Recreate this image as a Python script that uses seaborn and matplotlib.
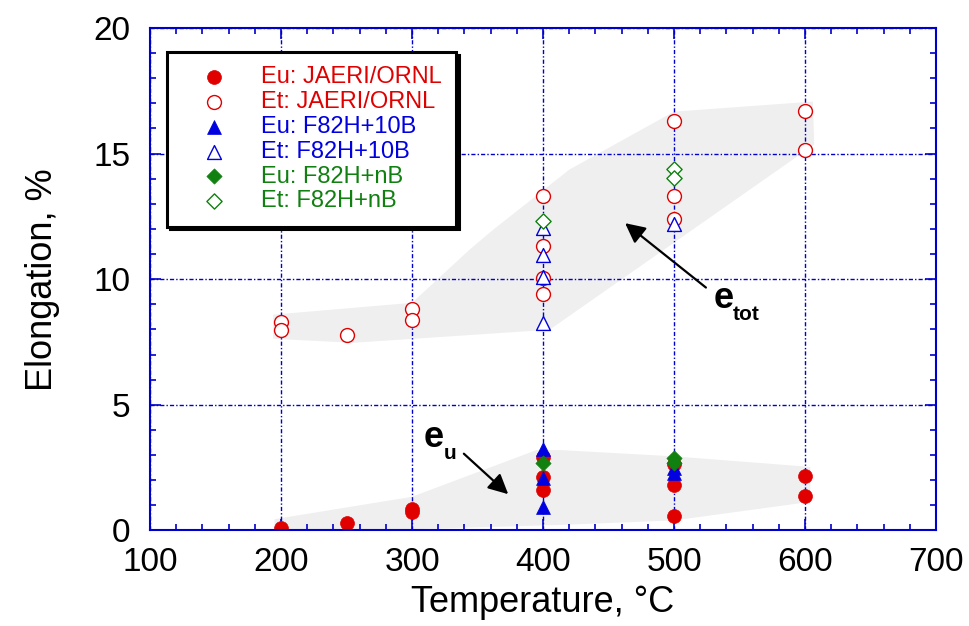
import matplotlib
matplotlib.use('Agg')
import matplotlib.pyplot as plt
import seaborn as sns
import pandas as pd
from matplotlib.ticker import MultipleLocator

sns.set_style('ticks')
plt.rcParams['font.family'] = ['Liberation Sans', 'DejaVu Sans']
plt.rcParams['text.color'] = 'black'
plt.rcParams['axes.labelcolor'] = 'black'

# Data
eu_jaeri_T = [200, 250, 300, 300, 400, 400, 400, 500, 500, 500, 600, 600]
eu_jaeri_y = [0.09, 0.29, 0.72, 0.86, 2.94, 2.14, 1.61, 2.65, 1.81, 0.58, 2.18, 1.37]
et_jaeri_T = [200, 200, 250, 300, 300, 400, 400, 400, 400, 500, 500, 500, 600, 600]
et_jaeri_y = [8.28, 7.96, 7.80, 8.81, 8.39, 13.30, 11.31, 10.05, 9.41, 16.29, 13.30, 12.40, 16.69, 15.16]
eu_10b_T = [400, 400, 400, 500, 500]
eu_10b_y = [3.25, 2.09, 0.95, 2.50, 2.28]
et_10b_T = [400, 400, 400, 400, 500]
et_10b_y = [12.04, 10.97, 10.09, 8.25, 12.20]
eu_nb_T = [400, 500, 500]
eu_nb_y = [2.68, 2.88, 2.70]
et_nb_T = [400, 500, 500]
et_nb_y = [12.31, 14.40, 14.03]

# Shaded scatter bands (outline vertices)
band_tot_T = [194, 300, 344, 362, 420, 500, 606, 607, 405, 255, 194]
band_tot_y = [8.59, 9.06, 11.18, 11.97, 14.36, 16.67, 17.07, 15.36, 7.99, 7.47, 7.63]
band_u_T = [195, 300, 395, 413, 500, 604, 604, 500, 413, 300, 195]
band_u_y = [0.45, 1.34, 3.20, 3.20, 2.95, 2.53, 1.14, 0.40, 0.22, 0.05, 0.0]

RED = '#e00000'
BLUE = '#0000e0'
GREEN = '#108010'
AXBLUE = '#0000cc'

series = [
    ('Eu: JAERI/ORNL', eu_jaeri_T, eu_jaeri_y, 'o', RED, True),
    ('Et: JAERI/ORNL', et_jaeri_T, et_jaeri_y, 'o', RED, False),
    ('Eu: F82H+10B', eu_10b_T, eu_10b_y, '^', BLUE, True),
    ('Et: F82H+10B', et_10b_T, et_10b_y, '^', BLUE, False),
    ('Eu: F82H+nB', eu_nb_T, eu_nb_y, 'D', GREEN, True),
    ('Et: F82H+nB', et_nb_T, et_nb_y, 'D', GREEN, False),
]

fig = plt.figure(figsize=(9.69, 6.26), dpi=100)
ax = fig.add_axes([0.1548, 0.1526, 0.8112, 0.8027])

ax.fill(band_tot_T, band_tot_y, color='#efefef', lw=0, zorder=1)
ax.fill(band_u_T, band_u_y, color='#efefef', lw=0, zorder=1)

for label, T, y, m, c, filled in series:
    df = pd.DataFrame({'T': T, 'y': y})
    size = 60 if m == 'D' else 100
    if filled:
        sns.scatterplot(data=df, x='T', y='y', marker=m, s=size, color=c,
                        edgecolor=c, linewidth=0.5, label=label, ax=ax, zorder=3)
    else:
        sns.scatterplot(data=df, x='T', y='y', marker=m, s=size, facecolor='white',
                        edgecolor=c, linewidth=1.0, label=label, ax=ax, zorder=3)

ax.set_xlim(100, 700)
ax.set_ylim(0, 20)
ax.xaxis.set_major_locator(MultipleLocator(100))
ax.xaxis.set_minor_locator(MultipleLocator(20))
ax.yaxis.set_major_locator(MultipleLocator(5))
ax.yaxis.set_minor_locator(MultipleLocator(1))

ax.grid(True, which='major', color=AXBLUE, lw=1.0, ls=(0, (3, 1.5, 1, 1.5)), zorder=2)
ax.set_axisbelow(False)
for sp in ax.spines.values():
    sp.set_color(AXBLUE)
    sp.set_linewidth(1.5)
    sp.set_zorder(4)

ax.tick_params(which='both', direction='in', top=True, right=True, color=AXBLUE,
               width=1.2, labelcolor='black')
ax.tick_params(which='major', length=8, labelsize=24)
ax.tick_params(which='minor', length=4)
ax.tick_params(axis='x', pad=12)
ax.tick_params(axis='y', pad=14)

ax.set_xlabel('Temperature, °C', fontsize=26, labelpad=5)
ax.set_ylabel('Elongation, %', fontsize=26, labelpad=24)

leg = ax.legend(loc='upper left', bbox_to_anchor=(0.0216, 0.952), borderaxespad=0,
                fontsize=17, labelspacing=0.12, handlelength=2.8, handletextpad=0.58,
                borderpad=0.6, fancybox=False, frameon=True,
                shadow={'color': 'black', 'alpha': 1.0})
leg.get_frame().set_edgecolor('black')
leg.get_frame().set_linewidth(2.2)
leg.set_zorder(6)
for txt, s in zip(leg.get_texts(), series):
    txt.set_color(s[4])

# band labels with arrows
ax.annotate('', xy=(461, 12.3), xytext=(526, 9.6),
            arrowprops=dict(arrowstyle='-|>', color='black', lw=1.6, mutation_scale=30))
ax.text(530, 9.25, 'e', fontsize=26, fontweight='bold', ha='left', va='center')
ax.text(545, 8.6, 'tot', fontsize=15, fontweight='bold', ha='left', va='center')
ax.annotate('', xy=(375, 1.37), xytext=(338, 3.13),
            arrowprops=dict(arrowstyle='-|>', color='black', lw=1.6, mutation_scale=30))
ax.text(309, 3.7, 'e', fontsize=26, fontweight='bold', ha='left', va='center')
ax.text(324, 3.05, 'u', fontsize=15, fontweight='bold', ha='left', va='center')

fig.savefig('out.png', dpi=100)
